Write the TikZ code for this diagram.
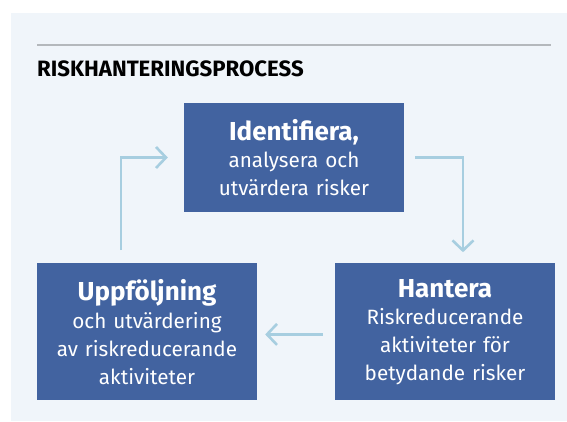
\documentclass[tikz,border=0pt]{standalone}
\usepackage{fontspec}
\setmainfont{Fira Sans}
\usepackage{tikz}
\usetikzlibrary{positioning, arrows.meta, calc}
\definecolor{riskblue}{RGB}{66, 99, 160}
\definecolor{risklight}{RGB}{240, 245, 250}
\definecolor{riskarrow}{RGB}{167, 206, 224}
\definecolor{riskrule}{RGB}{180, 184, 188}

\tikzset{
  stepbox/.style={rectangle, fill=riskblue, text=white, inner sep=0pt, text width=220pt, align=center, font=\fontsize{20.7}{27.8}\selectfont},
  flow/.style={riskarrow, line width=2.6pt, -{Straight Barb[length=10pt, width=21pt]}}
}
\newcommand{\stephead}[1]{{\fontsize{26}{27.8}\selectfont\bfseries #1}}

\begin{document}
\begin{tikzpicture}
    \useasboundingbox (0pt,0pt) rectangle (567pt,421pt);
        \fill[risklight] (11pt,0pt) rectangle (567pt,408pt);
        \draw[riskrule, line width=1.2pt] (37pt,376pt) -- (551pt,376pt);
        \node[anchor=base west, inner sep=0pt, font=\fontsize{22.2}{26}\selectfont\bfseries] (title) at (37pt,344pt) {RISKHANTERINGSPROCESS};
        
        \node[stepbox, minimum height=109pt] (ident) at (294pt,263.5pt) {\stephead{Identifiera,}\\analysera och\\utvärdera risker};
        
        \node[stepbox, minimum height=137pt, below=51pt of ident, xshift=151pt] (hantera) {\stephead{Hantera}\\Riskreducerande\\aktiviteter för\\betydande risker};
        
        \node[stepbox, minimum height=137pt, below=51pt of ident, xshift=-147pt] (uppf) {\stephead{Uppföljning}\\och utvärdering\\av riskreducerande\\aktiviteter};
        
        \draw[flow, shorten <=11pt, shorten >=11pt] (ident.east) -| ([xshift=18pt]hantera.north);
        \draw[flow, shorten <=12pt, shorten >=8pt] ([yshift=-2.5pt]hantera.west) -- ([yshift=-2.5pt]uppf.east);
        \draw[flow, shorten <=13pt, shorten >=16pt] ([xshift=-26pt]uppf.north) |- (ident.west);
    \end{tikzpicture}
\end{document}
